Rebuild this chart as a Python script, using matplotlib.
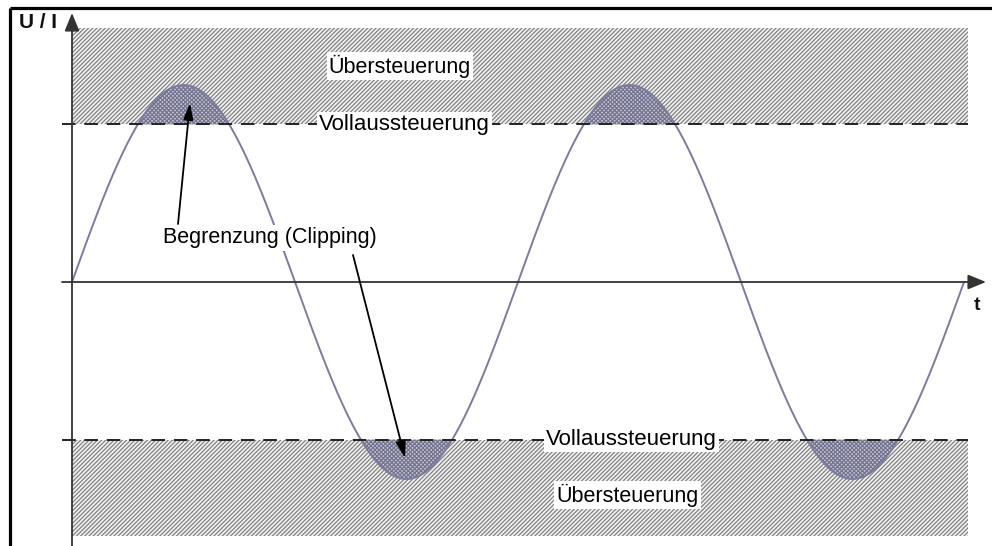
import numpy as np
import matplotlib
matplotlib.use('Agg')
import matplotlib.pyplot as plt

# signal / level definitions (units of amplitude, time in periods)
amplitude = 1.0
clip_level = 0.8
n_periods = 2.0
band_top = 1.29          # outer edge of the overdrive zone
band_end = 2.01          # right end of the hatched zones and dashed lines

labels_over = ['Übersteuerung', 'Übersteuerung']
labels_full = ['Vollaussteuerung', 'Vollaussteuerung']
label_x = [0.735, 1.255]     # top labels centred around first peak, bottom around 2nd trough
clip_label = 'Begrenzung (Clipping)'
axis_y_label = 'U / I'
axis_x_label = 't'

plt.rcParams['font.family'] = ['Liberation Sans', 'DejaVu Sans']
plt.rcParams['hatch.linewidth'] = 0.9

# pixel scale of the original drawing
x0, y0 = 72, 282
px_t, px_a = 446, 197
W, H = 992, 546

fig = plt.figure(figsize=(W / 100, H / 100), dpi=100)
ax = fig.add_axes([0, 0, 1, 1])
ax.set_xlim(-x0 / px_t, (W - x0) / px_t)
ax.set_ylim(-(H - y0) / px_a, y0 / px_a)
ax.axis('off')

# frame (top and left only)
ax.plot([10 / W, 1], [1 - 8 / H, 1 - 8 / H], color='black', lw=2.3, transform=ax.transAxes, solid_capstyle='butt')
ax.plot([10 / W, 10 / W], [0, 1 - 8 / H], color='black', lw=2.3, transform=ax.transAxes, solid_capstyle='butt')

# overdrive zones
ax.fill_between([0, band_end], clip_level, band_top, facecolor='#f2f2f2',
                edgecolor='#828282', hatch='////////', linewidth=0, zorder=1)
ax.fill_between([0, band_end], -band_top, -clip_level, facecolor='#f2f2f2',
                edgecolor='#828282', hatch='////////', linewidth=0, zorder=1)

# signal
t = np.linspace(0, n_periods, 2000)
s = amplitude * np.sin(2 * np.pi * t)
ax.fill_between(t, clip_level, s, where=s > clip_level, facecolor='#c6c6d4',
                edgecolor='#747490', hatch='xxxxxxxx', linewidth=0, zorder=2)
ax.fill_between(t, -clip_level, s, where=s < -clip_level, facecolor='#c6c6d4',
                edgecolor='#747490', hatch='xxxxxxxx', linewidth=0, zorder=2)
ax.plot(t, s, color='#7c7c9c', lw=1.4, zorder=3)

# full-scale dashed lines
for lvl in (clip_level, -clip_level):
    ax.plot([-10 / px_t, band_end], [lvl, lvl], color='#222222', lw=1.4,
            dashes=(7, 4.5), zorder=4)

# axes with arrows
ax.annotate('', xy=(0, (y0 - 13) / px_a), xytext=(0, -(H - y0) / px_a),
            arrowprops=dict(arrowstyle='-|>,head_length=1.1,head_width=0.45', color='#333333',
                            lw=1.3, shrinkA=0, shrinkB=0), zorder=5)
ax.annotate('', xy=((986 - x0) / px_t, 0), xytext=(-10 / px_t, 0),
            arrowprops=dict(arrowstyle='-|>,head_length=1.1,head_width=0.45', color='#333333',
                            lw=1.3, shrinkA=0, shrinkB=0), zorder=5)

ax.text(-(x0 - 38) / px_t, (y0 - 22) / px_a, axis_y_label, fontsize=15, fontweight='bold',
        ha='center', va='center', color='#111111', zorder=8)
ax.text((977 - x0) / px_t, -(305 - y0) / px_a, axis_x_label, fontsize=14, fontweight='bold',
        ha='center', va='center', color='#111111')

box = dict(facecolor='white', edgecolor='none', pad=1.5)
ax.text(label_x[0], (y0 - 66) / px_a, labels_over[0], fontsize=15.5, ha='center', va='center',
        bbox=box, zorder=6)
ax.text(label_x[0] + 0.01, clip_level, labels_full[0], fontsize=16, ha='center', va='center',
        bbox=box, zorder=6)
ax.text(label_x[1], -clip_level, labels_full[1], fontsize=16, ha='center', va='center',
        bbox=box, zorder=6)
ax.text(label_x[1] - 0.01, -(495 - y0) / px_a, labels_over[1], fontsize=15.5, ha='center',
        va='center', bbox=box, zorder=6)
ax.text((270 - x0) / px_t, -(238 - y0) / px_a, clip_label, fontsize=15.5, ha='center',
        va='center', bbox=box, zorder=6)

# clipping arrows
arr = dict(arrowstyle='-|>,head_length=1.0,head_width=0.3', color='black', lw=1.3,
           shrinkA=0, shrinkB=0)
ax.annotate('', xy=((190 - x0) / px_t, (y0 - 103) / px_a),
            xytext=((178 - x0) / px_t, (y0 - 224) / px_a), arrowprops=arr, zorder=7)
ax.annotate('', xy=((405 - x0) / px_t, -(458 - y0) / px_a),
            xytext=((353 - x0) / px_t, -(255 - y0) / px_a), arrowprops=arr, zorder=7)

fig.savefig('out.png', dpi=100)
